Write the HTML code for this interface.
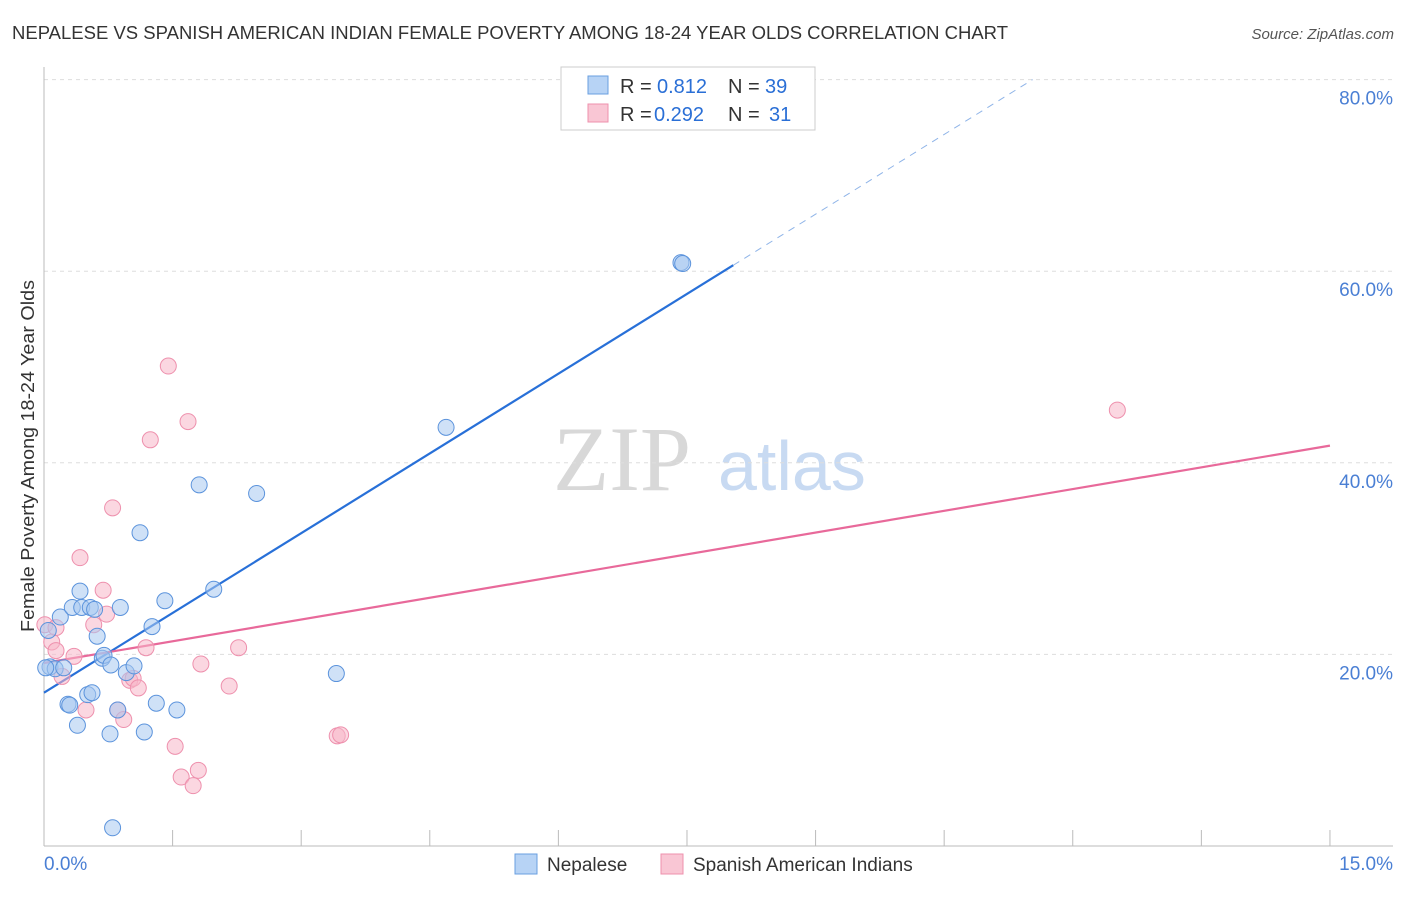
<!DOCTYPE html>
<html><head><meta charset="utf-8"><style>
body{margin:0;background:#fff;font-family:"Liberation Sans",sans-serif;}
svg text{font-family:"Liberation Sans",sans-serif;}
</style></head><body>
<svg id="chart" width="1406" height="892" xmlns="http://www.w3.org/2000/svg">
<text x="12" y="39" font-size="18" fill="#333" textLength="996" lengthAdjust="spacingAndGlyphs">NEPALESE VS SPANISH AMERICAN INDIAN FEMALE POVERTY AMONG 18-24 YEAR OLDS CORRELATION CHART</text>
<text x="1394" y="39" font-size="15" fill="#555" text-anchor="end" font-style="italic">Source: ZipAtlas.com</text>
<text x="34" y="456" font-size="18" fill="#333" text-anchor="middle" textLength="352" lengthAdjust="spacingAndGlyphs" transform="rotate(-90 34 456)">Female Poverty Among 18-24 Year Olds</text>
<text x="553" y="490" font-size="92" fill="#d8d8d8" style="font-family:'Liberation Serif',serif">ZIP</text>
<text x="718" y="490" font-size="70" fill="#c8daf2">atlas</text>
<g id="grid"></g><g id="axes"></g><g id="lines"></g><g id="points"></g>
<g>
<rect x="561" y="67" width="254" height="63" fill="#fff" stroke="#ccc"/>
<rect x="588" y="76" width="20" height="18" fill="#b7d3f5" stroke="#6a9fe0"/>
<text x="620" y="93" font-size="20" fill="#333">R = </text><text x="657" y="93" font-size="20" fill="#2a6fd6">0.812</text><text x="728" y="93" font-size="20" fill="#333">N =</text><text x="765" y="93" font-size="20" fill="#2a6fd6">39</text>
<rect x="588" y="104" width="20" height="18" fill="#f9c6d4" stroke="#ee90ad"/>
<text x="620" y="121" font-size="20" fill="#333">R = </text><text x="654" y="121" font-size="20" fill="#2a6fd6">0.292</text><text x="728" y="121" font-size="20" fill="#333">N =</text><text x="769" y="121" font-size="20" fill="#2a6fd6">31</text>
</g>
<g>
<rect x="515" y="854" width="22" height="20" fill="#b7d3f5" stroke="#6a9fe0"/>
<text x="547" y="871" font-size="19" fill="#333">Nepalese</text>
<rect x="661" y="854" width="22" height="20" fill="#f9c6d4" stroke="#ee90ad"/>
<text x="693" y="871" font-size="19" fill="#333">Spanish American Indians</text>
</g>
</svg>
<script>
const yTicks=[20,40,60,80];
const xTickLabels=["0.0%","15.0%"];
const nepX=[0.05,0.07,0.13,0.19,0.23,0.28,0.30,0.33,0.39,0.42,0.44,0.51,0.54,0.56,0.59,0.62,0.68,0.70,0.77,0.78,0.80,0.86,0.89,0.96,1.05,1.12,1.17,1.26,1.31,1.41,1.55,1.81,1.98,2.48,3.41,4.69,7.43,7.45,0.02];
const nepY=[22.5,18.7,18.5,23.9,18.6,14.8,14.7,24.9,12.6,26.6,24.9,15.8,24.9,16.0,24.7,21.9,19.6,19.9,11.7,18.9,1.9,14.2,24.9,18.1,18.8,32.7,11.9,22.9,14.9,25.6,14.2,37.7,26.8,36.8,18.0,43.7,60.9,60.8,18.6];
const spaX=[0.01,0.09,0.14,0.21,0.35,0.42,0.49,0.58,0.69,0.73,0.80,0.86,0.93,1.00,1.04,1.10,1.19,1.24,1.45,1.53,1.60,1.68,1.74,1.80,1.83,2.16,2.27,3.42,3.46,12.52,0.14];
const spaY=[23.1,21.3,20.4,17.7,19.8,30.1,14.2,23.1,26.7,24.2,35.3,14.2,13.2,17.3,17.5,16.5,20.7,42.4,50.1,10.4,7.2,44.3,6.3,7.9,19.0,16.7,20.7,11.5,11.6,45.5,22.8];
const nepLine=[16.0,5.55];
const spaLine=[19.1,1.513];
const X=v=>44+v*85.73, Y=v=>846-v*9.58;
const NS="http://www.w3.org/2000/svg";
function mk(tag,attrs,parent){const e=document.createElementNS(NS,tag);for(const k in attrs)e.setAttribute(k,attrs[k]);document.getElementById(parent).appendChild(e);return e;}
yTicks.forEach(t=>{
 const l=mk('line',{x1:44,x2:1393,y1:Y(t),y2:Y(t),stroke:'#ddd','stroke-dasharray':'4,4'},'grid');
 
 
 const tx=mk('text',{x:1393,y:Y(t)+25,'font-size':19,fill:'#4a7fd4','text-anchor':'end'},'grid');
 tx.textContent=t.toFixed(1)+'%';
 
 
});
mk('line',{x1:44,x2:44,y1:67,y2:846,stroke:'#bbb'},'axes');
mk('line',{x1:44,x2:1393,y1:846,y2:846,stroke:'#bbb'},'axes');
for(let i=1;i<=10;i++){mk('line',{x1:X(i*1.5),x2:X(i*1.5),y1:830,y2:846,stroke:'#bbb'},'axes');}
const l0=mk('text',{x:44,y:870,'font-size':19,fill:'#4a7fd4'},'axes');l0.textContent=xTickLabels[0];


const l1=mk('text',{x:1393,y:870,'font-size':19,fill:'#4a7fd4','text-anchor':'end'},'axes');l1.textContent=xTickLabels[1];


function pts(xs,ys,fill,stroke,name){xs.forEach((x,i)=>{const c=mk('circle',{cx:X(x),cy:Y(ys[i]),r:8,fill:fill,'fill-opacity':0.55,stroke:stroke,'stroke-width':1},'points');
 
 });}
pts(spaX,spaY,'#f7b6c8','#ee90ad','spanish-point');
pts(nepX,nepY,'#a8c8f0','#5b93dc','nepalese-point');
const xe=8.04, xd=(80-nepLine[0])/nepLine[1];
const b1=mk('line',{x1:X(0),y1:Y(nepLine[0]),x2:X(xe),y2:Y(nepLine[0]+nepLine[1]*xe),stroke:'#2870d8','stroke-width':2.2},'lines');


const b2=mk('line',{x1:X(xe),y1:Y(nepLine[0]+nepLine[1]*xe),x2:X(xd),y2:Y(80),stroke:'#8fb4e8','stroke-width':1,'stroke-dasharray':'7,6'},'lines');


const p1=mk('line',{x1:X(0),y1:Y(spaLine[0]),x2:X(15),y2:Y(spaLine[0]+spaLine[1]*15),stroke:'#e8699a','stroke-width':2.2},'lines');


</script>
</body></html>
